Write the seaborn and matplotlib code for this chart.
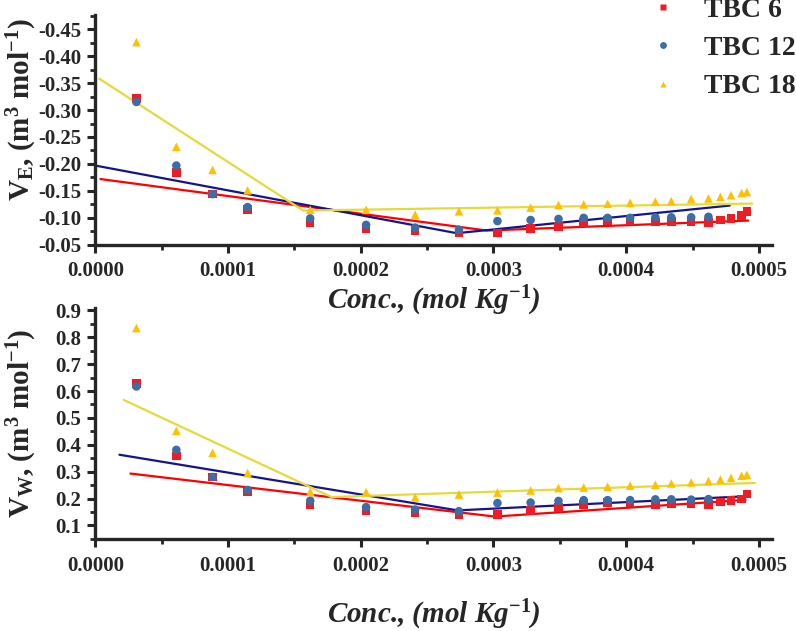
import matplotlib
matplotlib.use("Agg")
import matplotlib.pyplot as plt
import seaborn as sns
import pandas as pd
from matplotlib.ticker import MultipleLocator

# concentrations (mol/kg)
conc = [0.0000309, 0.0000610, 0.0000883, 0.0001147, 0.0001619, 0.000204,
        0.000241, 0.000274, 0.000303, 0.000328, 0.000349, 0.000368,
        0.000386, 0.000403, 0.000422, 0.000434, 0.000449, 0.000462,
        0.000471, 0.000479, 0.000487, 0.000491]

# V_E
ve_tbc6 = [-0.321, -0.184, -0.144, -0.116, -0.091, -0.080, -0.076, -0.072,
           -0.072, -0.080, -0.084, -0.091, -0.095, -0.095, -0.092, -0.093,
           -0.093, -0.091, -0.096, -0.099, -0.104, -0.112]
ve_tbc12 = [-0.315, -0.197, -0.144, -0.120, -0.099, -0.087, -0.082, -0.078,
            -0.094, -0.096, -0.098, -0.100, -0.100, -0.100, -0.101, -0.101,
            -0.101, -0.102]
ve_tbc18 = [-0.426, -0.232, -0.189, -0.151, -0.115, -0.115, -0.106, -0.112,
            -0.114, -0.119, -0.124, -0.125, -0.126, -0.128, -0.130, -0.131,
            -0.135, -0.136, -0.139, -0.142, -0.146, -0.148]

# V_W
vw_tbc6 = [0.627, 0.359, 0.280, 0.225, 0.176, 0.156, 0.148, 0.140, 0.140,
           0.156, 0.167, 0.178, 0.185, 0.183, 0.177, 0.181, 0.181, 0.177,
           0.187, 0.193, 0.199, 0.217]
vw_tbc12 = [0.617, 0.381, 0.280, 0.232, 0.192, 0.168, 0.159, 0.153, 0.183,
            0.185, 0.191, 0.194, 0.194, 0.194, 0.197, 0.197, 0.196, 0.198]
vw_tbc18 = [0.834, 0.452, 0.370, 0.295, 0.225, 0.224, 0.204, 0.215, 0.222,
            0.230, 0.239, 0.241, 0.244, 0.248, 0.251, 0.256, 0.260, 0.265,
            0.271, 0.277, 0.285, 0.288]

# fitted piecewise lines (x, y)
ve_fit6 = ([0.0000038, 0.000295, 0.000492], [-0.172, -0.0765, -0.095])
ve_fit12 = ([0.0, 0.0002723, 0.000478], [-0.197, -0.0716, -0.1228])
ve_fit18 = ([0.000003, 0.0001566, 0.000495], [-0.358, -0.1135, -0.1265])
vw_fit6 = ([0.0000264, 0.000301, 0.000490], [0.293, 0.133, 0.195])
vw_fit12 = ([0.0000181, 0.000273, 0.000484], [0.363, 0.156, 0.207])
vw_fit18 = ([0.0000213, 0.000178, 0.000497], [0.567, 0.2055, 0.258])

labels = ["TBC 6", "TBC 12", "TBC 18"]
pt_colors = ["#ee1c25", "#3a6ea5", "#ffc000"]
ln_colors = ["#ff0000", "#14148c", "#e6d93a"]
markers = ["s", "o", "^"]

sns.set_style("ticks")
plt.rcParams["font.family"] = ["Liberation Serif", "DejaVu Serif"]
plt.rcParams["font.weight"] = "bold"
plt.rcParams["axes.labelweight"] = "bold"
plt.rcParams["mathtext.fontset"] = "custom"
plt.rcParams["mathtext.rm"] = "Liberation Serif:bold"
plt.rcParams["mathtext.it"] = "Liberation Serif:italic:bold"
plt.rcParams["mathtext.bf"] = "Liberation Serif:bold"


def points_df(series):
    rows = []
    for lab, vals in zip(labels, series):
        for x, y in zip(conc, vals):
            rows.append({"conc": x, "val": y, "series": lab})
    return pd.DataFrame(rows)


def fits_df(fits):
    rows = []
    for lab, (xs, ys) in zip(labels, fits):
        for x, y in zip(xs, ys):
            rows.append({"conc": x, "val": y, "series": lab})
    return pd.DataFrame(rows)


fig = plt.figure(figsize=(7.96, 6.31), dpi=100)
ax1 = fig.add_axes([0.119, 0.612, 0.851, 0.364])
ax2 = fig.add_axes([0.119, 0.146, 0.851, 0.366])
ax2.patch.set_visible(False)

panels = [
    (ax1, points_df([ve_tbc6, ve_tbc12, ve_tbc18]),
     fits_df([ve_fit6, ve_fit12, ve_fit18])),
    (ax2, points_df([vw_tbc6, vw_tbc12, vw_tbc18]),
     fits_df([vw_fit6, vw_fit12, vw_fit18])),
]

for ax, pts, fits in panels:
    sns.lineplot(data=fits, x="conc", y="val", hue="series",
                 palette=ln_colors, sort=False, linewidth=1.6,
                 legend=False, ax=ax)
    sns.scatterplot(data=pts, x="conc", y="val", hue="series",
                    style="series", markers=markers, palette=pt_colors,
                    s=38, edgecolor="none", legend=(ax is ax1), ax=ax,
                    zorder=3)
    ax.set_xlim(-0.0000005, 0.000510)
    ax.xaxis.set_major_locator(MultipleLocator(0.0001))
    ax.xaxis.set_minor_locator(MultipleLocator(0.00005))
    ax.xaxis.set_major_formatter(plt.FuncFormatter(lambda v, p: f"{v:.4f}"))
    sns.despine(ax=ax)
    for s in ["left", "bottom"]:
        ax.spines[s].set_linewidth(2.4)
    ax.tick_params(which="major", length=6, width=2.2, labelsize=15)
    ax.tick_params(axis="x", which="major", pad=6)
    ax.tick_params(which="minor", length=3.5, width=2.0)
    for t in ax.get_xticklabels() + ax.get_yticklabels():
        t.set_fontweight("bold")

ax1.set_ylim(-0.05, -0.476)
ax1.yaxis.set_major_locator(MultipleLocator(0.05))
ax1.yaxis.set_minor_locator(MultipleLocator(0.025))
ax1.yaxis.set_major_formatter(plt.FuncFormatter(lambda v, p: f"{v:.2f}"))
ax1.set_ylabel(r"V$_{\mathrm{E}}$, (m$^{\mathrm{3}}$ mol$^{\mathrm{-1}}$)",
               fontsize=21, fontweight="bold")
ax1.yaxis.set_label_coords(-0.083, 0.59)

ax2.set_ylim(0.05, 0.909)
ax2.yaxis.set_major_locator(MultipleLocator(0.1))
ax2.yaxis.set_minor_locator(MultipleLocator(0.05))
ax2.yaxis.set_major_formatter(plt.FuncFormatter(lambda v, p: f"{v:.1f}"))
ax2.set_ylabel(r"V$_{\mathrm{W}}$, (m$^{\mathrm{3}}$ mol$^{\mathrm{-1}}$)",
               fontsize=21, fontweight="bold")
ax2.yaxis.set_label_coords(-0.083, 0.5)

xlab = r"Conc., (mol Kg$^{\mathrm{-1}}$)"
ax1.set_xlabel(xlab, fontsize=21, fontstyle="italic", fontweight="bold",
               labelpad=2)
ax2.set_xlabel(xlab, fontsize=21, fontstyle="italic", fontweight="bold",
               labelpad=16)

handles, labs = ax1.get_legend_handles_labels()
ax1.get_legend().remove()
fig.legend(handles, labs, loc="upper left", bbox_to_anchor=(0.801, 1.0215),
           frameon=False, fontsize=20, markerscale=0.8, handlelength=1.0,
           handletextpad=1.0, labelspacing=0.46, borderaxespad=0)

fig.savefig("out.png", dpi=100)
